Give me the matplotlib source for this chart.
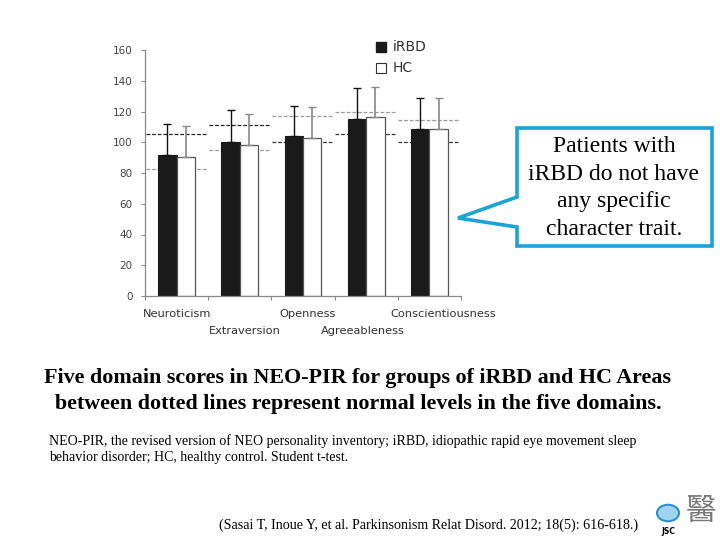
import matplotlib
matplotlib.use("Agg")
import matplotlib.pyplot as plt
from matplotlib.patches import Polygon, Rectangle, Circle
import numpy as np

# ---- data ----
domains = ["Neuroticism", "Extraversion", "Openness", "Agreeableness", "Conscientiousness"]
irbd = [91.5, 100.4, 103.9, 115.3, 108.7]
hc = [90.6, 98.0, 102.6, 116.1, 108.7]
irbd_err = [20.3, 20.6, 19.9, 20.1, 20.1]
hc_err = [19.7, 20.3, 20.1, 19.9, 20.1]
norm_hi = [105.6, 110.9, 116.8, 119.6, 114.6]
norm_lo = [82.3, 94.8, 100.0, 105.2, 100.0]
hi_col = ["#222222", "#222222", "#999999", "#999999", "#999999"]
lo_col = ["#999999", "#999999", "#333333", "#333333", "#333333"]
yticks = [0, 20, 40, 60, 80, 100, 120, 140, 160]

callout = "Patients with\niRBD do not have\nany specific\ncharacter trait."
caption = ("Five domain scores in NEO-PIR for groups of iRBD and HC Areas\n"
           "between dotted lines represent normal levels in the five domains.")
note = ("NEO-PIR, the revised version of NEO personality inventory; iRBD, idiopathic rapid eye movement sleep\n"
        "behavior disorder; HC, healthy control. Student t-test.")
cite = "(Sasai T, Inoue Y, et al. Parkinsonism Relat Disord. 2012; 18(5): 616-618.)"

W, H = 720, 540
fig = plt.figure(figsize=(7.2, 5.4), dpi=100)
fig.patch.set_facecolor("white")

def fx(px):
    return px / W

def fy(py):
    return 1 - py / H

ax = fig.add_axes([fx(145), fy(296), fx(316), 246 / H])
x = np.arange(len(domains))
bw = 0.29

ax.bar(x - bw / 2, irbd, bw, color="#1a1a1a", edgecolor="#1a1a1a", linewidth=0.8, zorder=2)
ax.bar(x + bw / 2, hc, bw, color="white", edgecolor="#555555", linewidth=0.9, zorder=2)
ax.errorbar(x - bw / 2, irbd, yerr=[np.zeros(5), irbd_err], fmt="none",
            ecolor="#111111", elinewidth=1.0, capsize=3, capthick=1.0, zorder=3)
ax.errorbar(x + bw / 2, hc, yerr=[np.zeros(5), hc_err], fmt="none",
            ecolor="#888888", elinewidth=1.2, capsize=3, capthick=1.0, zorder=3)

for i in range(len(domains)):
    ax.hlines(norm_hi[i], i - 0.49, i + 0.46, colors=hi_col[i], linestyles=(0, (3, 1.5)), linewidth=0.9, zorder=1)
    ax.hlines(norm_lo[i], i - 0.49, i + 0.46, colors=lo_col[i], linestyles=(0, (3, 1.5)), linewidth=0.9, zorder=1)

ax.set_xlim(-0.5, 4.5)
ax.set_ylim(0, 160)
ax.set_yticks(yticks)
ax.tick_params(axis="y", labelsize=7.5, labelcolor="#444444", color="#888888", length=3, pad=6)
ax.set_xticks(np.arange(-0.5, 5.0, 1.0))
ax.set_xticklabels([])
ax.tick_params(axis="x", color="#888888", length=3)
for s in ["top", "right"]:
    ax.spines[s].set_visible(False)
for s in ["left", "bottom"]:
    ax.spines[s].set_color("#888888")
    ax.spines[s].set_linewidth(0.9)

# staggered category labels
lab_dx = [0.0, 0.08, 0.07, -0.05, 0.22]
for i, d in enumerate(domains):
    ax.text(i + lab_dx[i], -11.5 if i % 2 == 0 else -22.5, d, ha="center", va="center",
            fontsize=8.2, color="#333333", family="DejaVu Sans")

# legend
fig.patches.append(Rectangle((fx(376), fy(52)), fx(10), 10 / H, transform=fig.transFigure,
                             facecolor="#1a1a1a", edgecolor="#1a1a1a"))
fig.patches.append(Rectangle((fx(376), fy(73)), fx(10), 10 / H, transform=fig.transFigure,
                             facecolor="white", edgecolor="#333333", linewidth=0.8))
fig.text(fx(393), fy(47), "iRBD", fontsize=10, color="#333333", va="center")
fig.text(fx(393), fy(68), "HC", fontsize=10, color="#333333", va="center")

# callout box with pointer
pts = [(517, 128), (712, 128), (712, 246), (517, 246), (517, 227), (458, 218), (517, 197)]
fig.patches.append(Polygon([(fx(a), fy(b)) for a, b in pts], closed=True, transform=fig.transFigure,
                           facecolor="white", edgecolor="#1ba3d6", linewidth=2.6, zorder=5))
fig.text(fx(614), fy(188), callout, ha="center", va="center", fontsize=17,
         family="Liberation Serif", linespacing=1.42, zorder=6)

# captions
fig.text(fx(358), fy(391), caption, ha="center", va="center", fontsize=15.8, fontweight="bold",
         family="Liberation Serif", linespacing=1.45)
fig.text(fx(49), fy(449), note, ha="left", va="center", fontsize=10, family="Liberation Serif",
         linespacing=1.3)
fig.text(fx(429), fy(525), cite, ha="center", va="center", fontsize=10.1, family="Liberation Serif")

# logo
fig.patches.append(Circle((fx(668), fy(513)), 11 / W, transform=fig.transFigure,
                          facecolor="#9fd3ef", edgecolor="#2a8fcf", linewidth=1.5))
fig.text(fx(668), fy(532), "JSC", ha="center", va="center", fontsize=5.5, fontweight="bold")
fig.text(fx(701), fy(512), "醫", ha="center", va="center", fontsize=22, color="#777777",
         family=["Noto Sans CJK TC", "DejaVu Sans"])

fig.savefig("out.png", dpi=100)
